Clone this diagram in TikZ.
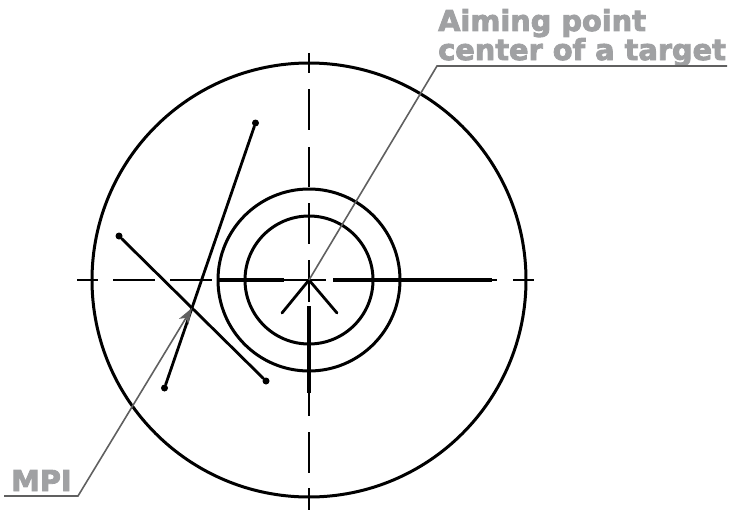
\documentclass[tikz,border=0pt]{standalone}
\usepackage{fontspec}
\newfontfamily\calloutfont[FakeBold=3]{DejaVu Sans Bold}
\usetikzlibrary{arrows.meta}
\definecolor{calloutgray}{HTML}{A0A1A3}
\definecolor{leadergray}{HTML}{606060}

\begin{document}
\begin{tikzpicture}
    [x=1pt, y=-1pt,
    ring/.style={line width=3pt, black},
    centerline/.style={line width=1.4pt, black},
    shift line/.style={line width=2.8pt, black, line cap=round},
    heavy/.style={line width=3.2pt, black},
    leader/.style={line width=1.6pt, leadergray},
    vertex/.style={inner sep=0pt, minimum size=7pt, circle, fill=black},
    callout/.style={inner sep=0pt, text=calloutgray, font=\calloutfont\fontsize{28.8}{29}\selectfont}]
    \useasboundingbox (0,0) rectangle (735,511);

        %% Rings
    \coordinate (C) at (309,280);
    \draw[ring] (C) circle (217);
    \draw[ring] (C) circle (91);
    \draw[ring] (C) circle (64);

        %% Center lines
    \foreach \a/\b in {77/98, 113/155, 170/212, 218/326, 333/497, 513/534}
        \draw[centerline] (\a,280) -- (\b,280);
    \foreach \a/\b in {53/73, 89/130, 147/187, 203/244, 260/302, 306/416, 432/473, 488/510}
        \draw[centerline] (309,\a) -- (309,\b);
    \draw[heavy] (218,280) -- (284,280);
    \draw[heavy] (333,280) -- (492,280);
    \draw[heavy] (309,306) -- (309,393);

        %% Branches below the center
    \coordinate (B1) at (282,313);
    \coordinate (B2) at (337,313);
    \draw[shift line] (C) -- (B1);
    \draw[shift line] (C) -- (B2);

        %% Shots
    \node[vertex] (S1) at (255.5,123) {};
    \node[vertex] (S2) at (164.5,388) {};
    \node[vertex] (S3) at (119,236) {};
    \node[vertex] (S4) at (266,381) {};
    \draw[shift line] (S1) -- (S2);
    \draw[shift line] (S3) -- (S4);

        %% Aiming point
    \coordinate (A1) at (437,66);
    \coordinate (A2) at (727,66);
    \node[callout, anchor=base west] (A) at (438,31) {Aiming point};
    \node[callout, anchor=base west] (A') at (438,60) {center of a target};
    \draw[leader] (C) -- (A1) -- (A2);

        %% MPI
    \coordinate (M) at (192,308);
    \coordinate (M1) at (78,496);
    \coordinate (M2) at (4,496);
    \node[callout, anchor=base west] (P) at (11,491) {MPI};
    \draw[leader, -{Stealth[length=16pt, width=11pt, inset=4.5pt]}] (M2) -- (M1) -- (M);
\end{tikzpicture}
\end{document}
